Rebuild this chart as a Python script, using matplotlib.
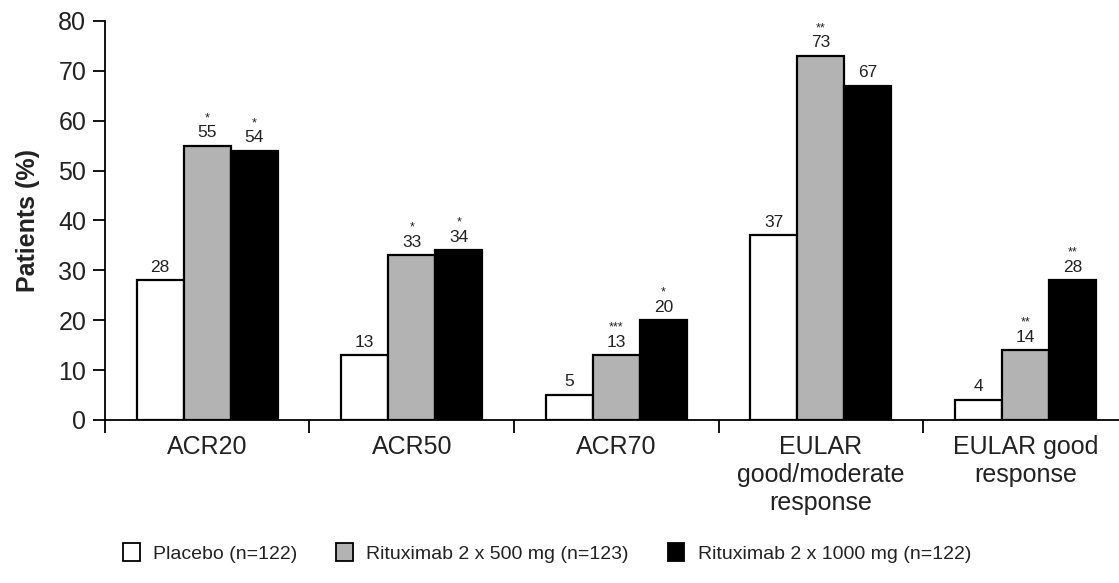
import matplotlib.pyplot as plt
import numpy as np
from matplotlib.patches import Patch

plt.rcParams["font.family"] = ["Liberation Sans", "DejaVu Sans"]

categories = ["ACR20", "ACR50", "ACR70", "EULAR\ngood/moderate\nresponse", "EULAR good\nresponse"]
series_names = ["Placebo (n=122)", "Rituximab 2 x 500 mg (n=123)", "Rituximab 2 x 1000 mg (n=122)"]
placebo = [28, 13, 5, 37, 4]
rtx_500 = [55, 33, 13, 73, 14]
rtx_1000 = [54, 34, 20, 67, 28]
stars_placebo = ["", "", "", "", ""]
stars_500 = ["*", "*", "***", "**", "**"]
stars_1000 = ["*", "*", "*", "", "**"]

colors = ["white", "#b3b3b3", "black"]
text_color = "#222222"

fig = plt.figure(figsize=(11.19, 5.83), dpi=100)
ax = fig.add_axes([0.0938, 0.2796, 0.9062, 0.6844])

x = np.arange(len(categories))
width = 0.23
offsets = [-width, 0, width]

for vals, stars, off, color in zip(
    [placebo, rtx_500, rtx_1000],
    [stars_placebo, stars_500, stars_1000],
    offsets,
    colors,
    strict=True,
):
    ax.bar(x + off, vals, width, color=color, edgecolor="black", linewidth=1.6, zorder=2)
    for xi, v, s in zip(x + off, vals, stars):
        ax.annotate(str(v), (xi, v), xytext=(0, 4), textcoords="offset points",
                    ha="center", va="bottom", fontsize=12.5, color=text_color)
        if s:
            ax.annotate(s, (xi, v), xytext=(0, 15.5), textcoords="offset points",
                        ha="center", va="bottom", fontsize=9, color=text_color)

ax.set_xlim(-0.5, 4.458)
ax.set_ylim(0, 80)
ax.set_yticks(np.arange(0, 81, 10))
ax.tick_params(axis="y", which="major", length=8.5, width=1.3, labelsize=18, pad=5,
               labelcolor=text_color)

# group separators below the axis, labels at group centres
ax.set_xticks(np.arange(-0.5, 4.0, 1.0))
ax.set_xticklabels([])
ax.tick_params(axis="x", which="major", length=9, width=1.3)
ax.set_xticks(x, minor=True)
ax.set_xticklabels(categories, minor=True, fontsize=18, linespacing=1.2, color=text_color)
ax.tick_params(axis="x", which="minor", length=0, pad=11)

for side in ["top", "right"]:
    ax.spines[side].set_visible(False)
for side in ["left", "bottom"]:
    ax.spines[side].set_linewidth(1.3)

ax.set_ylabel("Patients (%)", fontsize=18, fontweight="bold", color=text_color)
ax.yaxis.set_label_coords(-0.064, 0.5)

handles = [Patch(facecolor=c, edgecolor="black", linewidth=1.3) for c in colors]
fig.legend(handles, series_names, loc="center left",
           bbox_to_anchor=(123 / 1119, 1 - 553 / 583),
           ncol=3, frameon=False, fontsize=14, handlelength=0.85, handleheight=1.0,
           columnspacing=2.0, handletextpad=0.7, borderpad=0, borderaxespad=0,
           labelcolor=text_color)

fig.savefig("out.png", dpi=100)
